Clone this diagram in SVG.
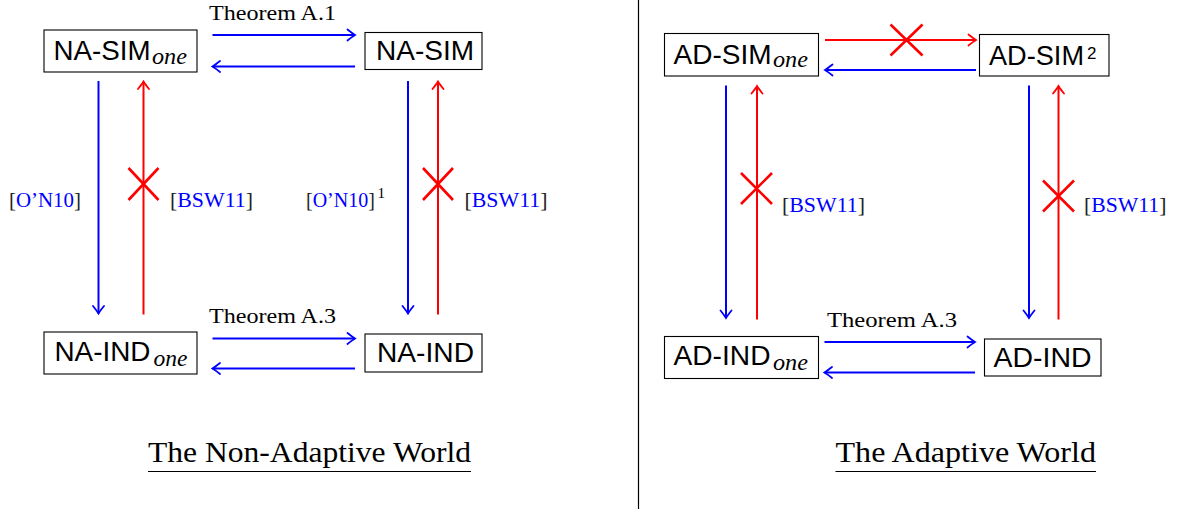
<svg xmlns="http://www.w3.org/2000/svg" width="1177" height="510" viewBox="0 0 1177 510">
<style>
.box{fill:#fff;stroke:#000;stroke-width:1.1}
.lbl{font-family:"Liberation Sans",Arial,sans-serif;font-size:27.5px;fill:#000}
.sub{font-family:"Liberation Serif","Times New Roman",serif;font-style:italic;font-size:24px;fill:#000}
.sup{font-family:"Liberation Sans",Arial,sans-serif;font-size:17px;fill:#000}
.thm{font-family:"Liberation Serif","Times New Roman",serif;font-size:21px;fill:#000}
.cite{font-family:"Liberation Serif","Times New Roman",serif;font-size:21.5px;fill:#222}
.cite .in{fill:#0000ff}
.csup{font-family:"Liberation Serif","Times New Roman",serif;font-size:15px;fill:#000}
.title{font-family:"Liberation Serif","Times New Roman",serif;font-size:29.5px;fill:#000}
.b{stroke:#0000ff;stroke-width:2;fill:none;marker-end:url(#ab)}
.r{stroke:#ff0000;stroke-width:2;fill:none;marker-end:url(#ar)}
.x{stroke:#ff0000;stroke-width:2.6;fill:none}
.ul{stroke:#000;stroke-width:1.2}
</style>
<defs>
<marker id="ab" markerUnits="userSpaceOnUse" viewBox="-10 -7 12 14" refX="0" refY="0" markerWidth="12" markerHeight="14" orient="auto">
<path d="M-7.5,-5.5 Q-2.5,-1.5 0,0 Q-2.5,1.5 -7.5,5.5" fill="none" stroke="#0000ff" stroke-width="1.8" stroke-linecap="round"/>
</marker>
<marker id="ar" markerUnits="userSpaceOnUse" viewBox="-10 -7 12 14" refX="0" refY="0" markerWidth="12" markerHeight="14" orient="auto">
<path d="M-7.5,-5.5 Q-2.5,-1.5 0,0 Q-2.5,1.5 -7.5,5.5" fill="none" stroke="#ff0000" stroke-width="1.8" stroke-linecap="round"/>
</marker>
</defs>

<line x1="638.5" y1="0" x2="638.5" y2="509" stroke="#000" stroke-width="1.2"/>

<g id="connectors">
<!-- Non-adaptive world -->
<line class="b" x1="212.5" y1="35" x2="355" y2="35"/>
<line class="b" x1="355" y1="66.5" x2="212.5" y2="66.5"/>
<line class="b" x1="212.5" y1="338.5" x2="355" y2="338.5"/>
<line class="b" x1="355" y1="368.5" x2="212.5" y2="368.5"/>
<line class="b" x1="98.5" y1="81" x2="98.5" y2="313.5"/>
<line class="r" x1="143.5" y1="314.5" x2="143.5" y2="81.5"/>
<line class="b" x1="408" y1="81" x2="408" y2="313.5"/>
<line class="r" x1="438" y1="314.5" x2="438" y2="81.5"/>
<path class="x" d="M128.5,168 L158.5,200 M158.5,168 L128.5,200"/>
<path class="x" d="M423,168 L453,200 M453,168 L423,200"/>
<text class="thm" x="209" y="20" textLength="127" lengthAdjust="spacingAndGlyphs">Theorem A.1</text>
<text class="thm" x="209" y="322.7" textLength="127" lengthAdjust="spacingAndGlyphs">Theorem A.3</text>
<text class="cite" x="9" y="206.7" style="font-size:20.9px">[<tspan class="in">O’N10</tspan>]</text>
<text class="cite" x="170" y="206.7" textLength="83" lengthAdjust="spacingAndGlyphs">[<tspan class="in">BSW11</tspan>]</text>
<text class="cite" x="306" y="206.7" style="font-size:20px">[<tspan class="in">O’N10</tspan>]<tspan class="csup" x="377.5" y="198">1</tspan></text>
<text class="cite" x="464.5" y="206.7" textLength="83" lengthAdjust="spacingAndGlyphs">[<tspan class="in">BSW11</tspan>]</text>

<!-- Adaptive world -->
<line class="r" x1="825" y1="40" x2="976" y2="40"/>
<path class="x" d="M890.5,24.5 L922.5,55.5 M922.5,24.5 L890.5,55.5"/>
<line class="b" x1="976" y1="70" x2="825" y2="70"/>
<line class="b" x1="824.5" y1="342" x2="975" y2="342"/>
<line class="b" x1="975" y1="372.5" x2="824.5" y2="372.5"/>
<line class="b" x1="726" y1="85.5" x2="726" y2="318"/>
<line class="r" x1="757" y1="319.5" x2="757" y2="86"/>
<line class="b" x1="1029" y1="85.5" x2="1029" y2="318"/>
<line class="r" x1="1058.5" y1="319.5" x2="1058.5" y2="86"/>
<path class="x" d="M741,173 L772,204 M772,173 L741,204"/>
<path class="x" d="M1043,180.5 L1074,211.5 M1074,180.5 L1043,211.5"/>
<text class="thm" x="827" y="326.7" textLength="130" lengthAdjust="spacingAndGlyphs">Theorem A.3</text>
<text class="cite" x="782" y="211.7" textLength="83" lengthAdjust="spacingAndGlyphs">[<tspan class="in">BSW11</tspan>]</text>
<text class="cite" x="1084" y="211.7" textLength="82.5" lengthAdjust="spacingAndGlyphs">[<tspan class="in">BSW11</tspan>]</text>
</g>

<g id="na-sim-one">
<rect class="box" x="44" y="30" width="153" height="42"/>
<text class="lbl" x="53.5" y="60"><tspan textLength="97" lengthAdjust="spacingAndGlyphs">NA-SIM</tspan><tspan class="sub" x="152" y="63.5" textLength="35" lengthAdjust="spacingAndGlyphs">one</tspan></text>
</g>
<g id="na-sim">
<rect class="box" x="365" y="32.5" width="117" height="37"/>
<text class="lbl" x="376" y="59.5" textLength="98" lengthAdjust="spacingAndGlyphs">NA-SIM</text>
</g>
<g id="na-ind-one">
<rect class="box" x="44" y="332" width="153" height="42"/>
<text class="lbl" x="54.5" y="361"><tspan textLength="96" lengthAdjust="spacingAndGlyphs">NA-IND</tspan><tspan class="sub" x="153.5" y="366" textLength="34" lengthAdjust="spacingAndGlyphs">one</tspan></text>
</g>
<g id="na-ind">
<rect class="box" x="365" y="334" width="117" height="38"/>
<text class="lbl" x="377" y="361.5" textLength="97" lengthAdjust="spacingAndGlyphs">NA-IND</text>
</g>
<g id="ad-sim-one">
<rect class="box" x="664.5" y="33.5" width="154" height="42.5"/>
<text class="lbl" x="673.5" y="63.5"><tspan textLength="98" lengthAdjust="spacingAndGlyphs">AD-SIM</tspan><tspan class="sub" x="773" y="67" textLength="35" lengthAdjust="spacingAndGlyphs">one</tspan></text>
</g>
<g id="ad-sim-2">
<rect class="box" x="979.5" y="34.5" width="129.5" height="41.5"/>
<text class="lbl" x="989" y="65"><tspan textLength="95" lengthAdjust="spacingAndGlyphs">AD-SIM</tspan><tspan class="sup" x="1087" y="58.5">2</tspan></text>
</g>
<g id="ad-ind-one">
<rect class="box" x="664.5" y="336.5" width="154" height="42"/>
<text class="lbl" x="673.5" y="365"><tspan textLength="97" lengthAdjust="spacingAndGlyphs">AD-IND</tspan><tspan class="sub" x="773" y="370" textLength="35" lengthAdjust="spacingAndGlyphs">one</tspan></text>
</g>
<g id="ad-ind">
<rect class="box" x="984.5" y="339" width="116.5" height="37"/>
<text class="lbl" x="993.5" y="367.3" textLength="98" lengthAdjust="spacingAndGlyphs">AD-IND</text>
</g>

<g id="title-na">
<text class="title" x="148" y="461.7" textLength="323" lengthAdjust="spacingAndGlyphs">The Non-Adaptive World</text>
<line class="ul" x1="148" y1="471.5" x2="471" y2="471.5"/>
</g>
<g id="title-ad">
<text class="title" x="835.5" y="461.7" textLength="260.5" lengthAdjust="spacingAndGlyphs">The Adaptive World</text>
<line class="ul" x1="835.5" y1="471.5" x2="1096" y2="471.5"/>
</g>
</svg>
